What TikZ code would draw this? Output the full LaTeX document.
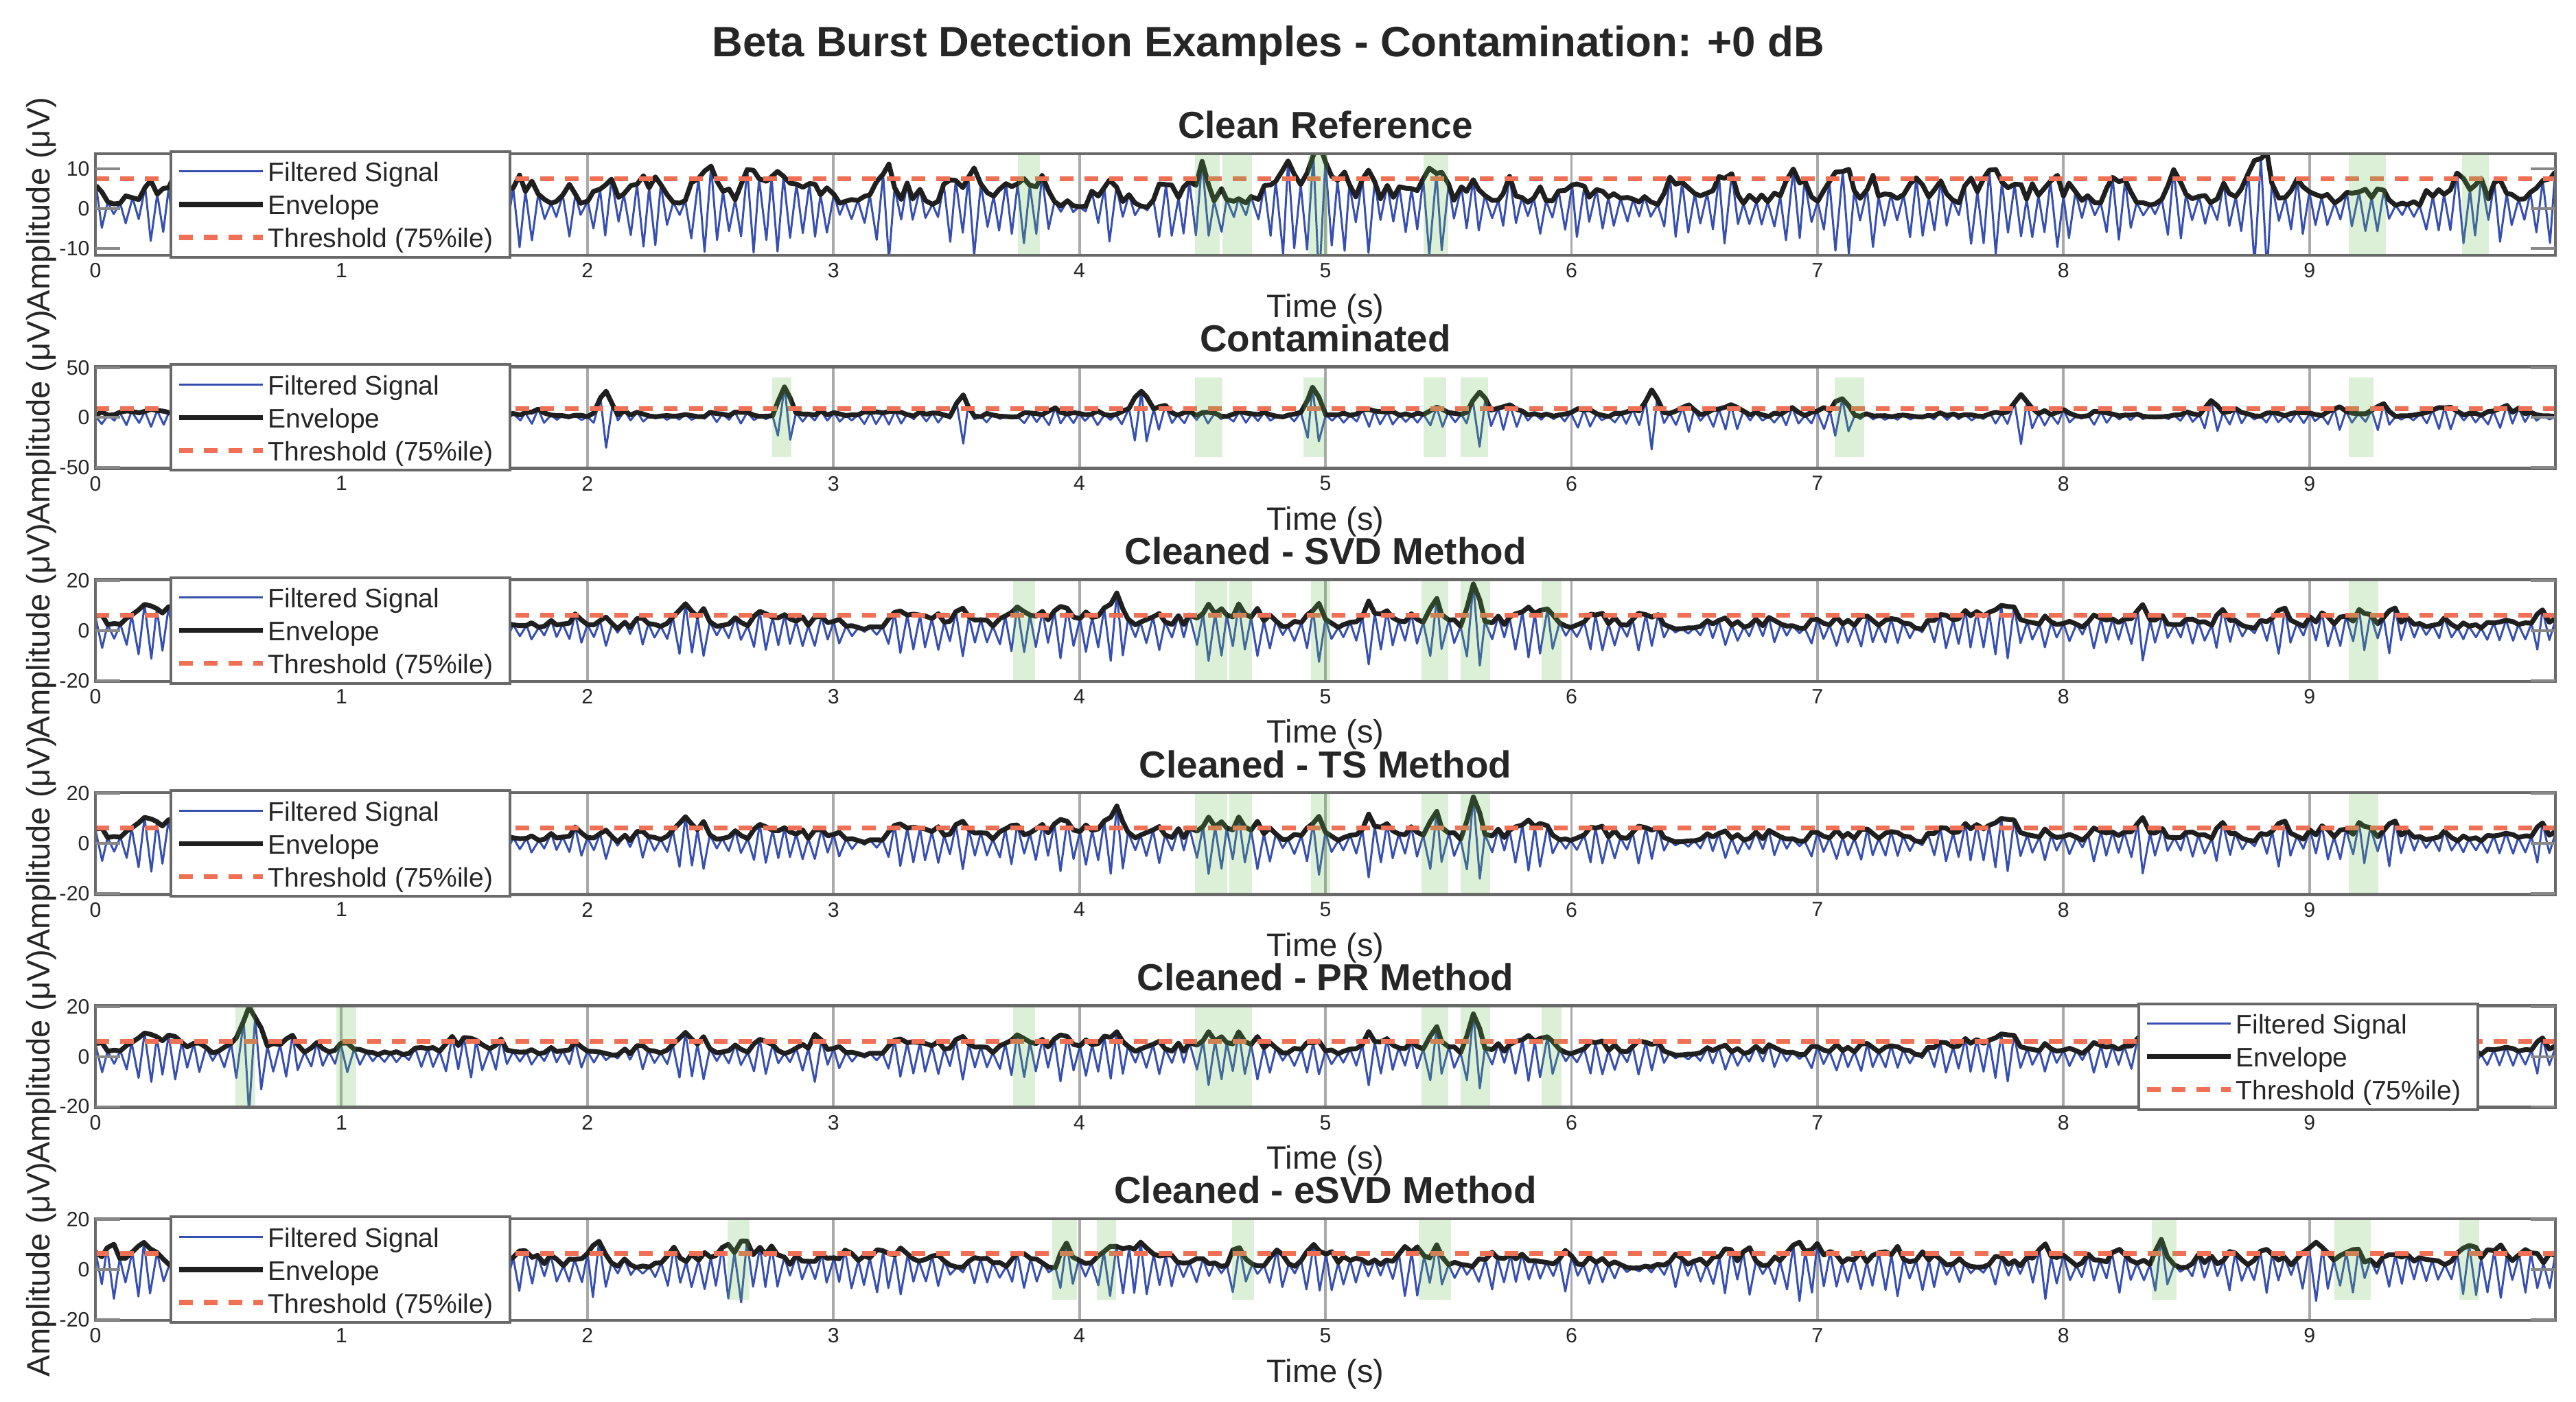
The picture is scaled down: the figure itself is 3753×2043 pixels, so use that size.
\documentclass[tikz,border=0pt]{standalone}
\usepackage{fontspec}
\setmainfont{Liberation Sans}
\usetikzlibrary{calc}

\definecolor{sigblue}{RGB}{55,80,175}
\definecolor{thrred}{RGB}{240,112,85}
\definecolor{burstgreen}{RGB}{100,190,80}
\definecolor{gridgray}{RGB}{170,170,170}
\definecolor{boxgray}{RGB}{105,105,105}
\definecolor{txtdark}{RGB}{38,38,38}

\tikzset{
	sigline/.style={sigblue, line width=0.85pt, line join=round},
	envline/.style={black!88, line width=2pt, line join=round},
	thrline/.style={thrred, line width=2pt, dash pattern=on 0.2cm off 0.16cm},
	burst/.style={fill=burstgreen, fill opacity=0.23},
	gridln/.style={gridgray, line width=1.1pt},
	axbox/.style={boxgray, line width=1.3pt},
	ytick/.style={gridgray!80!black, line width=1.1pt},
	legbox/.style={boxgray, line width=1.1pt, fill=white},
	suptitle/.style={inner sep=0pt, anchor=base, text=txtdark, font=\fontsize{17.6}{20}\selectfont\bfseries},
	ptitle/.style={inner sep=0pt, anchor=base, text=txtdark, font=\fontsize{15.6}{18}\selectfont\bfseries},
	axlab/.style={inner sep=0pt, anchor=base, text=txtdark, font=\fontsize{13.4}{16}\selectfont},
	legtext/.style={inner sep=0pt, anchor=base west, text=txtdark, font=\fontsize{11.1}{13}\selectfont},
	ticklab/.style={inner sep=0pt, text=txtdark, font=\fontsize{8.6}{10}\selectfont}
}

\begin{document}
\begin{tikzpicture}[x=0.01cm, y=-0.01cm]
	\useasboundingbox (0,0) rectangle (3753,2043);
	\node[suptitle] (sup) at (1848,83) {Beta Burst Detection Examples - Contamination: +0 dB};
	
	% index/title/ylim/tick/threshold/scale/seed/shade range/shades/bursts (t/height/width)/legend x
	\foreach \k/\ttl/\lo/\hi/\tk/\thr/\sc/\seed/\slo/\shi/\shades/\bursts/\lx in {
		0/Clean Reference/-11.8/13.9/10/7.5/4.6/11/-11.8/13.9/{3.75/3.84,4.47/4.57,4.58/4.70,4.93/5.01,5.40/5.50,9.16/9.31,9.62/9.73}/{3.8/4/0.06,4.125/6/0.05,4.5/4/0.06,4.65/2/0.05,4.975/4/0.05,5.175/6/0.04,5.45/4/0.06,9.225/3/0.08,9.675/4/0.05}/249,
		1/Contaminated/-51/51/50/9/4.5/23/-40/40/{2.75/2.83,4.47/4.58,4.91/5.00,5.40/5.49,5.55/5.66,7.07/7.19,9.16/9.26}/{2.075/23/0.05,2.8/27/0.05,3.525/19/0.05,4.25/17/0.05,4.525/4/0.05,4.95/28/0.05,5.45/4/0.05,5.625/18/0.05,6.325/19/0.05,7.1/15/0.05,7.825/14/0.05,8.6/14/0.05,9.3/7/0.05}/249,
		2/Cleaned - SVD Method/-20.3/20.3/20/6.2/4/37/-20.3/20.3/{3.73/3.82,4.47/4.60,4.61/4.70,4.94/5.02,5.39/5.50,5.55/5.67,5.88/5.96,9.16/9.28}/{2.075/4/0.05,2.8/5/0.05,3.775/4/0.05,4.15/4/0.05,4.525/4/0.06,4.65/3/0.05,4.975/4/0.05,5.175/4/0.04,5.45/4/0.06,5.6/13/0.04,5.925/3/0.05,9.225/4/0.07}/249,
		3/Cleaned - TS Method/-20.3/20.3/20/6.2/4/37/-20.3/20.3/{4.47/4.60,4.61/4.70,4.94/5.02,5.39/5.50,5.55/5.67,9.16/9.28}/{2.075/4/0.05,2.8/5/0.05,4.15/4/0.05,4.525/4/0.06,4.65/3/0.05,4.975/4/0.05,5.175/4/0.04,5.45/4/0.06,5.6/13/0.04,9.225/4/0.07}/249,
		4/Cleaned - PR Method/-20.3/20.3/20/6.0/3.6/37/-20.3/20.3/{0.57/0.65,0.98/1.06,3.73/3.82,4.47/4.70,5.39/5.50,5.55/5.67,5.88/5.96}/{0.625/11/0.05,1.025/4/0.06,1.525/4/0.04,2.925/4/0.04,3.775/4/0.05,4.525/4/0.06,4.65/3/0.05,5.175/3/0.04,5.45/4/0.06,5.6/12/0.04,5.925/3/0.05}/3116,
		5/Cleaned - eSVD Method/-20.3/20.3/20/6.5/4/53/-12/20/{2.57/2.66,3.89/3.99,4.07/4.15,4.62/4.71,5.38/5.51,8.36/8.46,9.10/9.25,9.61/9.69}/{2.625/5/0.05,3.95/4/0.05,4.125/7/0.05,4.65/5/0.05,5.45/5/0.06,5.975/5/0.04,8.4/3/0.05,9.175/4/0.06,9.625/3/0.04}/249}
	{
		\pgfmathsetmacro\ytop{224+310.4*\k}
		\pgfmathsetmacro\zero{\ytop+\hi*148/(\hi-\lo)}
		\pgfmathsetmacro\yu{1.48/(\hi-\lo)}
		% burst heights on the 40 Hz grid
		\foreach \tb/\hb/\wb in \bursts {
			\pgfmathtruncatemacro\na{max(0,(\tb-\wb)*40)}
			\pgfmathtruncatemacro\nb{min(400,(\tb+\wb)*40+1)}
			\foreach \n in {\na,...,\nb} {
				\pgfmathsetmacro\add{\hb*max(0,1-abs(\n/40-\tb)/\wb)}
				\ifcsname bst@\k @\n\endcsname
					\pgfmathsetmacro\add{\add+\csname bst@\k @\n\endcsname}
				\fi
				\expandafter\xdef\csname bst@\k @\n\endcsname{\add}
			}
		}
		% signal peaks and envelope
		\pgfmathsetseed{\seed}
		\xdef\uprev{1}
		\xdef\sigpath{}
		\xdef\envpath{}
		\foreach \n in {0,...,400} {
			\pgfmathsetmacro\u{0.6*\uprev+0.8*rnd}
			\xdef\uprev{\u}
			\ifcsname bst@\k @\n\endcsname
				\edef\extra{\csname bst@\k @\n\endcsname}
			\else
				\def\extra{0}
			\fi
			\pgfmathsetmacro\tt{\n/40+0.006*(rnd-0.5)}
			\pgfmathsetmacro\aa{\sc*\u*\u+\extra}
			\pgfmathsetmacro\ss{\aa*(1-2.15*mod(\n,2))}
			\ifnum\n=0
				\xdef\sigpath{(\tt,\ss)}
				\xdef\envpath{(\tt,\aa)}
			\else
				\xdef\sigpath{\sigpath -- (\tt,\ss)}
				\xdef\envpath{\envpath -- (\tt,\aa)}
			\fi
		}
		\begin{scope}[shift={(139,\zero)}, x=3.582cm, y=\yu cm]
			\foreach \g in {1,...,9}
				\draw[gridln] (\g,\lo) -- (\g,\hi);
			\begin{scope}
				\clip (0,\lo) rectangle (10,\hi);
				\edef\cmd{\noexpand\draw[sigline] \sigpath;}\cmd
				\edef\cmd{\noexpand\draw[envline] \envpath;}\cmd
				\draw[thrline] (0,\thr) -- (10,\thr);
				\foreach \a/\b in \shades
					\fill[burst] (\a,\slo) rectangle (\b,\shi);
			\end{scope}
			\draw[axbox] (0,\lo) rectangle (10,\hi);
			\foreach \v in {-\tk,0,\tk} {
				\draw[ytick] (0,\v) -- (0.1,\v) (9.9,\v) -- (10,\v);
				\node[ticklab, anchor=east] (yt\k\v) at ($(0,\v)+(-0.022,0)$) {\v};
			}
			\foreach \i in {0,...,9}
				\node[ticklab, anchor=north, yshift=-0.11cm] (xt\k\i) at (\i,\lo) {\i};
			\node[ptitle, yshift=0.22cm] (ttl\k) at (5,\hi) {\ttl};
			\node[axlab, yshift=-0.9cm] (xl\k) at (5,\lo) {Time (s)};
		\end{scope}
		% legend
		\draw[legbox] (\lx,\ytop-3) rectangle ++(494,154);
		\draw[sigline] (\lx+12,\ytop+26) -- ++(122,0);
		\draw[envline] (\lx+12,\ytop+74) -- ++(122,0);
		\draw[thrline] (\lx+12,\ytop+122) -- ++(122,0);
		\node[legtext] (lg\k a) at (\lx+141,\ytop+41) {Filtered Signal};
		\node[legtext] (lg\k b) at (\lx+141,\ytop+89) {Envelope};
		\node[legtext] (lg\k c) at (\lx+141,\ytop+137) {Threshold (75\%ile)};
		\node[axlab, rotate=90] (yl\k) at (72,\ytop+74) {Amplitude (μV)};
	}
\end{tikzpicture}
\end{document}
